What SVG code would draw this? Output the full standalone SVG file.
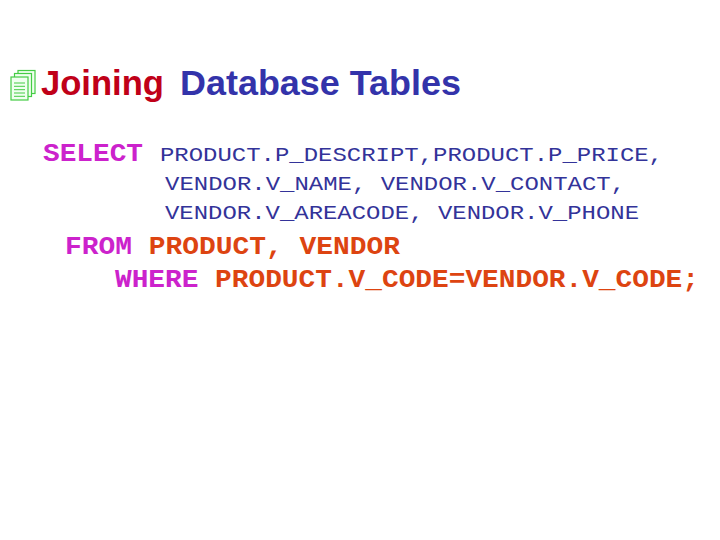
<svg xmlns="http://www.w3.org/2000/svg" width="720" height="540" viewBox="0 0 720 540">
<style>
.pg{fill:#f0fff0;stroke:#44cc44;stroke-width:1.2}
.ln{stroke:#44cc44;stroke-width:1}
.title{font-family:"Liberation Sans",Arial,sans-serif;font-weight:bold;font-size:35px}
.reg{font-family:"Liberation Mono","Courier New",monospace;font-size:21px;fill:#333399}
.bold{font-family:"Liberation Mono","Courier New",monospace;font-weight:bold;font-size:26px}
.kw{fill:#cc22cc}
.id{fill:#dd4411}
</style>
<rect width="720" height="540" fill="#ffffff"/>
<g id="icon">
<rect class="pg" x="18" y="70.5" width="17" height="23"/>
<rect class="pg" x="14.5" y="73.5" width="17" height="23"/>
<rect class="pg" x="11" y="77" width="17" height="23"/>
<line class="ln" x1="14" y1="83" x2="25" y2="83"/>
<line class="ln" x1="14" y1="86.3" x2="25" y2="86.3"/>
<line class="ln" x1="14" y1="89.7" x2="25" y2="89.7"/>
<line class="ln" x1="14" y1="93" x2="25" y2="93"/>
<line class="ln" x1="14" y1="96.3" x2="25" y2="96.3"/>
</g>
<g id="title">
<text class="title" x="41" y="95" fill="#c00018" textLength="123" lengthAdjust="spacingAndGlyphs">Joining</text>
<text class="title" x="180" y="95" fill="#3333aa" textLength="281" lengthAdjust="spacingAndGlyphs">Database Tables</text>
</g>
<g id="sql">
<text class="bold kw" x="43" y="161" textLength="100" lengthAdjust="spacingAndGlyphs">SELECT</text>
<text class="reg" x="160" y="161" textLength="503" lengthAdjust="spacingAndGlyphs">PRODUCT.P_DESCRIPT,PRODUCT.P_PRICE,</text>
<text class="reg" x="165" y="190" textLength="460" lengthAdjust="spacingAndGlyphs">VENDOR.V_NAME, VENDOR.V_CONTACT,</text>
<text class="reg" x="165" y="219" textLength="474" lengthAdjust="spacingAndGlyphs">VENDOR.V_AREACODE, VENDOR.V_PHONE</text>
<text class="bold" x="65" y="254" textLength="335" lengthAdjust="spacingAndGlyphs"><tspan class="kw">FROM</tspan><tspan class="id"> PRODUCT, VENDOR</tspan></text>
<text class="bold" x="115" y="287" textLength="584" lengthAdjust="spacingAndGlyphs"><tspan class="kw">WHERE</tspan><tspan class="id"> PRODUCT.V_CODE=VENDOR.V_CODE;</tspan></text>
</g>
</svg>
